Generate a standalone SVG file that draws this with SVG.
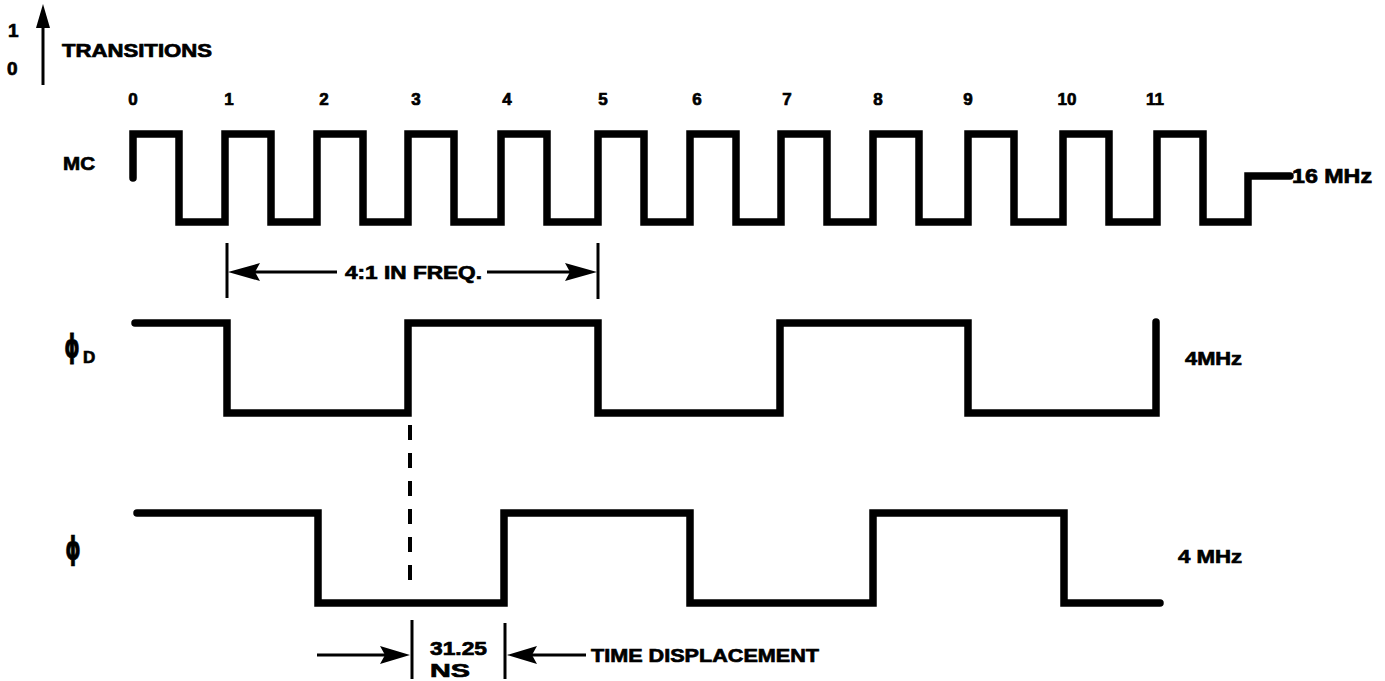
<svg xmlns="http://www.w3.org/2000/svg" width="1385" height="681" viewBox="0 0 1385 681">
<defs>
<style>
.t{font-family:"Liberation Sans",Arial,sans-serif;font-weight:700;fill:#000;stroke:#000;stroke-width:0.7}
.n{font-size:17px;text-anchor:middle}
.l{font-size:19px}
.ph{font-family:"DejaVu Sans",sans-serif;font-weight:700;font-size:26px;fill:#000;stroke:#000;stroke-width:0.6;text-anchor:middle}
.w{fill:none;stroke:#000;stroke-width:7.5;stroke-linejoin:miter;stroke-linecap:round}
.a{fill:none;stroke:#000;stroke-width:3}
.h{fill:#000;stroke:none}
</style>
</defs>
<rect width="1385" height="681" fill="#fff"/>

<g id="legend">
<text class="t l" x="8" y="37" font-size="17">1</text>
<text class="t l" x="7" y="75" font-size="17">0</text>
<line class="a" x1="43" y1="85" x2="43" y2="22"/>
<polygon class="h" points="43,4 36,28 50,28"/>
<text class="t" x="62" y="57" font-size="18" textLength="150" lengthAdjust="spacingAndGlyphs">TRANSITIONS</text>
</g>

<g id="tick-labels">
<text class="t n" x="133" y="105">0</text>
<text class="t n" x="229" y="105">1</text>
<text class="t n" x="324" y="105">2</text>
<text class="t n" x="416" y="105">3</text>
<text class="t n" x="507" y="105">4</text>
<text class="t n" x="603" y="105">5</text>
<text class="t n" x="697" y="105">6</text>
<text class="t n" x="787" y="105">7</text>
<text class="t n" x="878" y="105">8</text>
<text class="t n" x="968" y="105">9</text>
<text class="t n" x="1067" y="105">10</text>
<text class="t n" x="1155" y="105">11</text>
</g>

<g id="mc">
<text class="t" x="63" y="170" font-size="19" textLength="32" lengthAdjust="spacingAndGlyphs">MC</text>
<path class="w" d="M133,178 V134 H179 V222 H225 V134 H271 V222 H317 V134 H363 V222 H408 V134 H454 V222 H501 V134 H547 V222 H598 V134 H644 V222 H690 V134 H736 V222 H781 V134 H827 V222 H873 V134 H919 V222 H968 V134 H1014 V222 H1063 V134 H1109 V222 H1157 V134 H1203 V222 H1248 V176 H1290"/>
<text class="t" x="1292" y="183" font-size="20" textLength="80" lengthAdjust="spacingAndGlyphs">16 MHz</text>
</g>

<g id="phiD">
<text class="ph" transform="translate(72,357) scale(0.75,1.25)">ϕ</text>
<text class="t" x="83" y="363" font-size="17">D</text>
<path class="w" d="M135,323 H227 V413 H408 V323 H598 V413 H780 V323 H968 V413 H1156 V322"/>
<text class="t" x="1185" y="365" font-size="19" textLength="57" lengthAdjust="spacingAndGlyphs">4MHz</text>
</g>

<g id="phi">
<text class="ph" transform="translate(73,559) scale(0.75,1.2)">ϕ</text>
<path class="w" d="M137,513 H318 V603 H504 V513 H690 V603 H873 V513 H1064 V603 H1160"/>
<text class="t" x="1178" y="563" font-size="19" textLength="64" lengthAdjust="spacingAndGlyphs">4 MHz</text>
</g>

<g id="connectors">
<line class="a" x1="227" y1="243" x2="227" y2="298"/>
<line class="a" x1="598" y1="243" x2="598" y2="299"/>
<line class="a" x1="255" y1="272" x2="337" y2="272"/>
<polygon class="h" points="228,272 260,263 255,272 260,281"/>
<line class="a" x1="487" y1="272" x2="570" y2="272"/>
<polygon class="h" points="597,272 565,263 570,272 565,281"/>
<line x1="410" y1="425" x2="410" y2="590" stroke="#000" stroke-width="4" stroke-dasharray="15 13"/>
<line class="a" x1="412" y1="620" x2="412" y2="679"/>
<line class="a" x1="505" y1="623" x2="505" y2="679"/>
<line class="a" x1="317" y1="655" x2="385" y2="655"/>
<polygon class="h" points="410,655 380,646 385,655 380,664"/>
<line class="a" x1="532" y1="655" x2="586" y2="655"/>
<polygon class="h" points="507,655 537,646 532,655 537,664"/>
</g>

<g id="annotations">
<text class="t" x="345" y="279" font-size="19" textLength="137" lengthAdjust="spacingAndGlyphs">4:1 IN FREQ.</text>
<text class="t" x="430" y="655" font-size="19" textLength="57" lengthAdjust="spacingAndGlyphs">31.25</text>
<text class="t" x="430" y="677" font-size="19" textLength="40" lengthAdjust="spacingAndGlyphs">NS</text>
<text class="t" x="591" y="662" font-size="19" textLength="228" lengthAdjust="spacingAndGlyphs">TIME DISPLACEMENT</text>
</g>
</svg>
